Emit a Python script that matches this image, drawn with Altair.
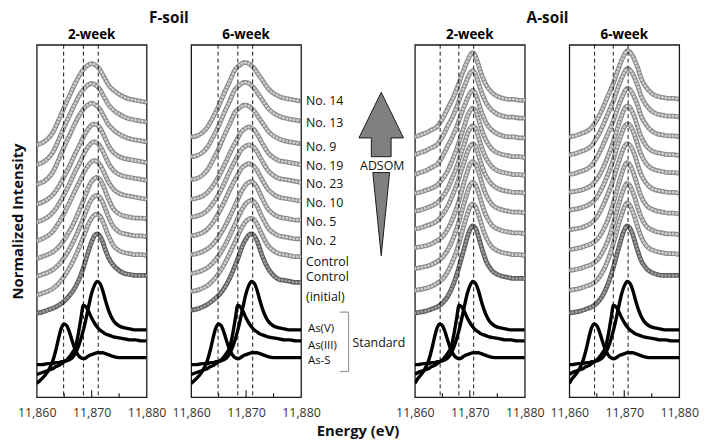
import altair as alt
import pandas as pd

# ---------------- data ----------------
sample_energy = [11860, 11861, 11862, 11863, 11864, 11865, 11866, 11867, 11868, 11868.5,
                 11869, 11869.5, 11870, 11870.5, 11871, 11871.5, 11872, 11872.5, 11873,
                 11874, 11875, 11876, 11877, 11878, 11879, 11880]

sample_names = ["No. 14", "No. 13", "No. 9", "No. 19", "No. 23", "No. 10", "No. 5",
                "No. 2", "Control", "Control\n(initial)"]
sample_group = ["upper", "upper", "upper", "middle", "middle", "middle", "lower",
                "lower", "lower", "initial"]

# F-soil, 2-week (rise above pre-edge)
f2_upper = [0, 2, 6, 13, 25, 38, 50, 62, 72, 76, 79, 81, 82, 81, 79, 76, 71, 66, 61, 55, 51, 48, 46, 45, 44, 43]
f2_middle = [0, 2, 5, 10, 18, 28, 39, 51, 62, 68, 73, 77, 80, 81, 80, 77, 72, 66, 60, 52, 48, 46, 45, 44, 43, 42]
f2_lower = [0, 2, 4, 7, 12, 19, 28, 39, 52, 59, 66, 73, 78, 81, 82, 80, 75, 68, 61, 50, 45, 43, 42, 41, 41, 40]
f2_initial = [0, 1, 3, 5, 8, 12, 18, 26, 38, 46, 55, 64, 72, 78, 80, 78, 72, 64, 57, 48, 43, 40, 39, 38, 38, 38]
f2_base = [254, 234, 214, 194, 176, 157, 139, 121, 102, 84]

# F-soil, 6-week
f6_upper = [0, 1, 4, 10, 20, 31, 44, 56, 68, 71, 73, 75, 75, 74, 72, 69, 65, 61, 57, 49, 44, 41, 39, 38, 37, 36]
f6_middle = [0, 1, 3, 7, 14, 23, 34, 46, 57, 62, 67, 70, 72, 73, 72, 70, 66, 61, 56, 47, 42, 39, 38, 37, 36, 35]
f6_lower = [0, 1, 3, 6, 11, 18, 27, 38, 50, 56, 62, 67, 71, 73, 74, 72, 68, 62, 56, 46, 41, 38, 37, 36, 35, 35]
f6_initial = [0, 1, 3, 6, 10, 15, 22, 32, 45, 52, 60, 67, 72, 76, 77, 75, 70, 62, 54, 42, 35, 31, 30, 29, 28, 28]
f6_base = [262, 242, 219, 199, 181, 162, 143, 124, 106, 87]

# A-soil, 2-week
a2_upper = [0, 2, 4, 7, 10, 18, 29, 40, 54, 62, 69, 76, 82, 85, 82, 74, 65, 58, 52, 45, 41, 39, 38, 38, 37, 37]
a2_middle = [0, 1, 3, 5, 8, 14, 23, 36, 51, 60, 68, 77, 83, 86, 84, 76, 67, 59, 53, 45, 41, 39, 38, 37, 37, 36]
a2_lower = [0, 1, 2, 4, 7, 11, 19, 31, 47, 57, 67, 76, 84, 87, 85, 78, 69, 60, 53, 44, 40, 38, 37, 36, 36, 35]
a2_initial = [0, 1, 2, 4, 6, 10, 17, 29, 46, 56, 66, 76, 84, 88, 86, 79, 69, 60, 52, 43, 39, 37, 36, 35, 35, 35]
a2_base = [262, 244, 224, 205, 187, 169, 150, 129, 107, 84]

# A-soil, 6-week
a6_upper = [0, 1, 3, 5, 9, 17, 28, 41, 54, 62, 70, 77, 83, 87, 86, 82, 76, 69, 60, 50, 44, 41, 40, 39, 39, 38]
a6_middle = [0, 1, 2, 4, 7, 13, 23, 36, 51, 60, 69, 77, 84, 87, 86, 81, 74, 65, 57, 47, 42, 40, 39, 38, 38, 37]
a6_lower = [0, 1, 2, 4, 6, 10, 18, 30, 47, 57, 67, 76, 84, 88, 86, 80, 72, 63, 55, 45, 41, 39, 38, 37, 37, 36]
a6_initial = [0, 1, 2, 4, 6, 10, 17, 29, 46, 56, 66, 76, 84, 88, 86, 80, 71, 62, 54, 45, 41, 39, 38, 38, 38, 38]
a6_base = [262, 244, 224, 206, 188, 168, 148, 127, 107, 84]

# reference standards
std_energy = [11860, 11861, 11862, 11862.5, 11863, 11863.5, 11864, 11864.5, 11865, 11865.5,
              11866, 11866.5, 11867, 11867.5, 11868, 11868.5, 11869, 11869.5, 11870, 11870.5,
              11871, 11871.5, 11872, 11872.5, 11873, 11873.5, 11874, 11875, 11876, 11877,
              11878, 11879, 11880]
std_names = ["As(V)", "As(III)", "As-S"]
as_v = [32, 32, 33, 33, 33, 34, 34, 35, 35, 36, 37, 39, 43, 49, 57, 67, 79, 92, 104, 112,
        116, 114, 107, 97, 88, 81, 76, 71, 69, 68, 67, 67, 67]
as_iii = [22, 24, 26, 27, 28, 30, 31, 33, 35, 37, 40, 44, 49, 61, 77, 92, 90, 85, 79, 74,
          70, 67, 65, 63, 62, 61, 60, 59, 58, 57, 57, 56, 56]
as_s = [13, 18, 25, 30, 37, 47, 59, 69, 73, 71, 64, 55, 47, 42, 39, 38, 39, 41, 42, 43,
        44, 44, 44, 43, 42, 41, 40, 39, 39, 39, 39, 39, 39]
a_std_shift = -0.45

f_ref_lines = [11864.9, 11868.5, 11871.2]
a_ref_lines = [11864.6, 11868.0, 11870.7]

axis_label_values = [11860, 11870, 11880]
major_ticks = [11870]
minor_ticks = [11865, 11875]

# label drop below the curve tail (same units as intensity)
label_nudge = [0, 2, 3, 1, 2, 2, 2, 2, 5, -5]
std_nudge = [-1, 5, 3]

# ---------------- build tables ----------------
profiles = {
    "F2": {"upper": f2_upper, "middle": f2_middle, "lower": f2_lower, "initial": f2_initial},
    "F6": {"upper": f6_upper, "middle": f6_middle, "lower": f6_lower, "initial": f6_initial},
    "A2": {"upper": a2_upper, "middle": a2_middle, "lower": a2_lower, "initial": a2_initial},
    "A6": {"upper": a6_upper, "middle": a6_middle, "lower": a6_lower, "initial": a6_initial},
}
bases = {"F2": f2_base, "F6": f6_base, "A2": a2_base, "A6": a6_base}


def sample_table(key):
    rows = []
    for name, grp, base in zip(sample_names, sample_group, bases[key]):
        tone = "dark" if grp == "initial" else "light"
        for e, p in zip(sample_energy, profiles[key][grp]):
            rows.append({"curve": name, "energy": e, "intensity": base + p, "tone": tone})
    return pd.DataFrame(rows)


def std_table(shift):
    rows = []
    for name, vals in zip(std_names, [as_v, as_iii, as_s]):
        es = [e + shift for e in std_energy]
        es[0], es[-1] = std_energy[0], std_energy[-1]
        for e, v in zip(es, vals):
            rows.append({"curve": name, "energy": e, "intensity": v})
    return pd.DataFrame(rows)


PW, PH = 111, 356
xscale = alt.Scale(domain=[11860, 11880], nice=False, zero=False)
yscale = alt.Scale(domain=[-1, 355], nice=False, zero=False)
NOFRAME = alt.ViewBackground(stroke="transparent", strokeWidth=0)


def panel(key, title, ref_lines, shift, show_y):
    xaxis = alt.Axis(values=axis_label_values, format=",", labelFlush=False, ticks=False,
                     domain=False, grid=False, title=None, labelPadding=9, labelFontSize=12.5,
                     labelColor="#333333")
    if show_y:
        yaxis = alt.Axis(title="Normalized Intensity", labels=False, ticks=False, domain=False,
                         grid=False, minExtent=0, titlePadding=11, titleFontSize=15,
                         titleFontWeight="bold", titleColor="#111111")
    else:
        yaxis = None
    X = alt.X("energy:Q", scale=xscale, axis=xaxis)
    Y = alt.Y("intensity:Q", scale=yscale, axis=yaxis)
    sdf = sample_table(key)
    outer = alt.Chart(sdf).mark_line(strokeWidth=4.8, interpolate="monotone", clip=True).encode(
        X, Y, detail="curve:N",
        color=alt.Color("tone:N", scale=alt.Scale(domain=["light", "dark"], range=["#8a8a8a", "#5c5c5c"]), legend=None))
    inner = alt.Chart(sdf).mark_line(strokeWidth=2.9, interpolate="monotone", strokeCap="round",
                                     strokeDash=[0.01, 3.6], clip=True).encode(
        X, Y, detail="curve:N",
        color=alt.Color("tone:N", scale=alt.Scale(domain=["light", "dark"], range=["#cdcdcd", "#9a9a9a"]), legend=None))
    std = alt.Chart(std_table(shift)).mark_line(strokeWidth=3.4, color="black", interpolate="monotone",
                                                 clip=True).encode(X, Y, detail="curve:N")
    dashes = alt.Chart(pd.DataFrame({"energy": ref_lines})).mark_rule(
        strokeDash=[4, 3], strokeWidth=0.9, color="black").encode(x=X)
    tmaj = alt.Chart(pd.DataFrame({"energy": major_ticks})).mark_rule(color="#222222", strokeWidth=1.2).encode(
        x=X, y=alt.value(PH), y2=alt.value(PH - 7))
    tmin = alt.Chart(pd.DataFrame({"energy": minor_ticks})).mark_rule(color="#222222", strokeWidth=1.2).encode(
        x=X, y=alt.value(PH), y2=alt.value(PH - 4))
    return alt.layer(outer, inner, std, dashes, tmaj, tmin).resolve_scale(color="independent").properties(
        width=PW, height=PH,
        title=alt.TitleParams(title, fontSize=13.5, fontWeight="bold", offset=3, color="black"))


p1 = panel("F2", "2-week", f_ref_lines, 0, True)
p2 = panel("F6", "6-week", f_ref_lines, 0, False)
p3 = panel("A2", "2-week", a_ref_lines, a_std_shift, False)
p4 = panel("A6", "6-week", a_ref_lines, a_std_shift, False)


def spacer(w):
    return alt.Chart(pd.DataFrame({"a": [0]})).mark_point(opacity=0).encode(
        x=alt.value(0), y=alt.value(0)).properties(width=w, height=PH, view=NOFRAME)


# ---------------- middle annotation column ----------------
Ym = alt.Y("v:Q", scale=yscale, axis=None)
lab_df = pd.DataFrame({
    "label": sample_names,
    "v": [b + profiles["F6"][g][-1] - n for b, g, n in zip(f6_base, sample_group, label_nudge)],
})
std_lab_df = pd.DataFrame({
    "label": std_names,
    "v": [t - n for t, n in zip([as_v[-1], as_iii[-1], as_s[-1]], std_nudge)],
})
labels = alt.Chart(lab_df).mark_text(align="left", baseline="middle", fontSize=12.5, lineBreak="\n",
                                      lineHeight=20, color="#111111").encode(
    x=alt.value(5), y=Ym, text="label:N")
std_labels = alt.Chart(std_lab_df).mark_text(align="left", baseline="middle", fontSize=11.5,
                                              color="#111111").encode(
    x=alt.value(7), y=Ym, text="label:N")

bracket_top, bracket_bottom = 85, 25
br_v = alt.Chart(pd.DataFrame({"v": [bracket_top], "v2": [bracket_bottom]})).mark_rule(
    color="#9a9a9a", strokeWidth=1.2).encode(x=alt.value(48), y=Ym, y2="v2:Q")
br_h = alt.Chart(pd.DataFrame({"v": [bracket_top, bracket_bottom]})).mark_rule(
    color="#9a9a9a", strokeWidth=1.2).encode(x=alt.value(39), x2=alt.value(48), y=Ym)
std_word = alt.Chart(pd.DataFrame({"v": [54], "t": ["Standard"]})).mark_text(
    align="left", baseline="middle", fontSize=12.5, color="#111111").encode(
    x=alt.value(52), y=Ym, text="t:N")

arrow_path = ("M0,-1 L0.273,-0.442 L0.121,-0.442 L0.121,-0.212 L-0.121,-0.212 L-0.121,-0.442 "
              "L-0.273,-0.442 Z M-0.103,-0.018 L0.103,-0.018 L0,1 Z")
arrow = alt.Chart(pd.DataFrame({"v": [224.5]})).mark_point(
    shape=arrow_path, size=27225, filled=True, fill="#808080", stroke="#1a1a1a", strokeWidth=1,
    opacity=1).encode(x=alt.value(81), y=Ym)
adsom = alt.Chart(pd.DataFrame({"v": [233], "t": ["ADSOM"]})).mark_text(
    align="center", baseline="middle", fontSize=12.5, color="#111111").encode(
    x=alt.value(82), y=Ym, text="t:N")
energy_title = alt.Chart(pd.DataFrame({"t": ["Energy (eV)"]})).mark_text(
    align="center", baseline="middle", fontSize=15, fontWeight="bold", color="#111111").encode(
    x=alt.value(57.5), y=alt.value(PH + 34), text="t:N")
soil_titles = alt.Chart(pd.DataFrame({"t": ["F-soil", "A-soil"], "pos": [-133.5, 249]})).mark_text(
    align="center", baseline="middle", fontSize=15.5, fontWeight="bold", color="#111111").encode(
    x=alt.X("pos:Q", scale=None), y=alt.value(-27), text="t:N")

middle = alt.layer(labels, std_labels, br_v, br_h, std_word, arrow, adsom, energy_title,
                   soil_titles).properties(width=115, height=PH, view=NOFRAME)

chart = alt.hconcat(p1, spacer(45), p2, middle, p3, spacer(45), p4, spacing=0, bounds="flush").properties(
    padding={"left": 2, "top": 1, "right": 0, "bottom": 0}
).configure(font="Open Sans").configure_view(stroke="#1a1a1a", strokeWidth=1.3)

chart.save("out.html", embed_options={"renderer": "svg", "actions": False})
